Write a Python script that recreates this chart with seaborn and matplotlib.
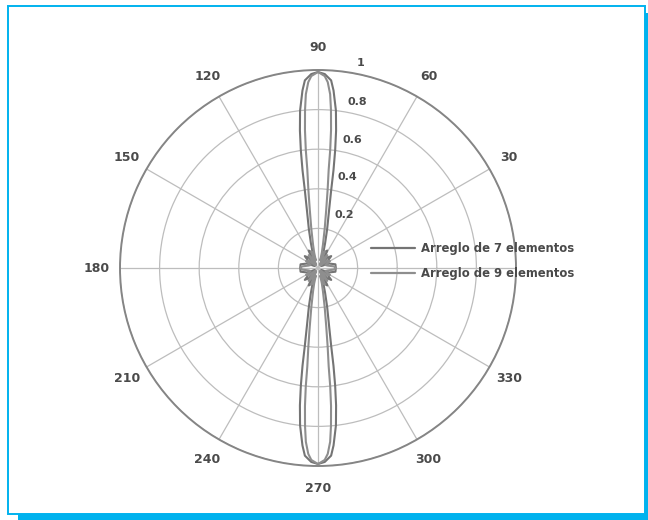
import numpy as np
import pandas as pd
import seaborn as sns
import matplotlib
matplotlib.use("Agg")
import matplotlib.pyplot as plt
from matplotlib.patches import Rectangle
from matplotlib.lines import Line2D

# Normalised radiation pattern, one quadrant (angle measured from broadside, degrees)
delta_7 = [0, 2, 4, 5, 6.5, 7.5, 8.3, 9.0, 9.6, 10.8, 13.3, 16, 18.4, 21, 24, 28, 32, 36, 42, 48, 54, 60, 68,
           78, 90]
gain_7 = [0.99, 0.98, 0.95, 0.90, 0.80, 0.70, 0.60, 0.50, 0.40, 0.30, 0.20, 0.13, 0.09, 0.05, 0.09, 0.10, 0.06,
          0.02, 0.07, 0.09, 0.06, 0.02, 0.06, 0.09, 0.09]

delta_9 = [0, 2, 3, 4, 4.7, 5.4, 5.9, 6.2, 7.0, 8.0, 9.7, 12, 14, 16, 19, 22, 25, 28, 32, 36, 41, 46, 52, 60,
           68, 76, 84, 90]
gain_9 = [0.99, 0.97, 0.94, 0.88, 0.80, 0.70, 0.60, 0.50, 0.40, 0.30, 0.20, 0.12, 0.08, 0.04, 0.07, 0.09, 0.05,
          0.02, 0.06, 0.08, 0.04, 0.02, 0.06, 0.07, 0.04, 0.05, 0.08, 0.09]

series_names = ["Arreglo de 7 elementos", "Arreglo de 9 elementos"]
series_colors = ["#747474", "#8e8e8e"]

angle_ticks = [0, 30, 60, 90, 120, 150, 180, 210, 240, 270, 300, 330]
angle_labels = ["", "30", "60", "90", "120", "150", "180", "210", "240", "270", "300", "330"]
radial_ticks = [0.2, 0.4, 0.6, 0.8, 1.0]
radial_labels = ["0.2", "0.4", "0.6", "0.8", "1"]
# where each radial label sits (angle in degrees, radius in data units)
radial_label_pos = [(63.9, 0.298), (72.2, 0.484), (75.0, 0.669), (76.7, 0.863), (78.2, 1.056)]


def full_pattern(delta, gain):
    """Mirror one quadrant of a symmetric broadside pattern around the full circle."""
    d = np.asarray(delta, dtype=float)
    g = np.asarray(gain, dtype=float)
    phi = np.concatenate([90 - d[::-1], 90 + d[1:], 270 - d[::-1][1:], 270 + d[1:]])
    r = np.concatenate([g[::-1], g[1:], g[::-1][1:], g[1:]])
    return np.deg2rad(phi), r


frames = []
for name, (d, g) in zip(series_names, [(delta_7, gain_7), (delta_9, gain_9)]):
    th, r = full_pattern(d, g)
    frames.append(pd.DataFrame({"theta": th, "r": r, "serie": name}))
df = pd.concat(frames, ignore_index=True)

sns.set_style("white")
plt.rcParams["font.family"] = ["DejaVu Sans"]

W, H = 648, 520
fig = plt.figure(figsize=(W / 100, H / 100), dpi=100)
fig.patch.set_facecolor("white")

# framed panel with a cyan drop shadow
cyan = "#00b2ee"
fig.patches.append(Rectangle((18 / W, 0), (W - 18) / W, (H - 13) / H, transform=fig.transFigure,
                             facecolor=cyan, edgecolor="none", zorder=-3))
fig.patches.append(Rectangle((8 / W, 6 / H), 637 / W, 508 / H, transform=fig.transFigure,
                             facecolor="white", edgecolor=cyan, linewidth=1.4, zorder=-2))

cx, cy, R = 318, 268, 198
ax = fig.add_axes([(cx - R) / W, (H - cy - R) / H, 2 * R / W, 2 * R / H], projection="polar")
ax.set_facecolor("white")

sns.lineplot(data=df, x="theta", y="r", hue="serie", palette=series_colors, sort=False,
             estimator=None, units="serie", linewidth=1.5, legend=False, ax=ax)

ax.set_rlim(0, 1)
ax.set_rticks(radial_ticks)
ax.set_yticklabels([])
ax.set_thetagrids(angle_ticks, angle_labels, fontsize=9, fontweight="bold", color="#4a4a4a")
ax.tick_params(axis="x", pad=6)
ax.grid(True, color="#bdbdbd", linewidth=0.9)
ax.spines["polar"].set_color("#858585")
ax.spines["polar"].set_linewidth(1.4)
ax.set_xlabel("")
ax.set_ylabel("")

for lab, (ang, rr) in zip(radial_labels, radial_label_pos):
    ax.text(np.deg2rad(ang), rr, lab, ha="center", va="center", fontsize=8,
            fontweight="bold", color="#4a4a4a")

handles = [Line2D([], [], color=c, linewidth=1.6) for c in series_colors]
fig.legend(handles, series_names, loc="center left", bbox_to_anchor=(360 / W, 1 - 261 / H),
           frameon=False, handlelength=3.8, handletextpad=0.5, labelspacing=1.05,
           prop={"weight": "bold", "size": 8.4}, labelcolor="#4a4a4a")

fig.savefig("out.png", dpi=100, facecolor="white")
